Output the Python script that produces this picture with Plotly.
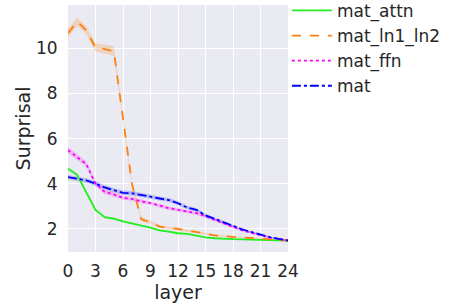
import plotly.graph_objects as go

layers = list(range(25))

mat_attn = [4.67, 4.40, 3.62, 2.84, 2.52, 2.46, 2.34, 2.26, 2.15, 2.06, 1.94, 1.88, 1.81, 1.78, 1.70, 1.63, 1.59, 1.56, 1.55, 1.54, 1.53, 1.52, 1.51, 1.50, 1.48]
mat_attn_ci = [0.10, 0.08, 0.07, 0.06, 0.05, 0.05, 0.04, 0.04, 0.04, 0.04, 0.03, 0.03, 0.03, 0.03, 0.03, 0.03, 0.03, 0.02, 0.02, 0.02, 0.02, 0.02, 0.02, 0.02, 0.02]

mat_ln1_ln2 = [10.67, 11.18, 10.80, 10.03, 9.97, 9.88, 6.90, 3.95, 2.43, 2.30, 2.10, 2.06, 2.00, 1.94, 1.85, 1.79, 1.72, 1.68, 1.65, 1.62, 1.60, 1.58, 1.56, 1.53, 1.49]
mat_ln1_ln2_ci = [0.20, 0.18, 0.18, 0.18, 0.20, 0.22, 0.15, 0.10, 0.10, 0.08, 0.06, 0.06, 0.05, 0.05, 0.05, 0.05, 0.04, 0.04, 0.04, 0.03, 0.03, 0.03, 0.03, 0.03, 0.03]

mat_ffn = [5.49, 5.20, 4.87, 4.01, 3.64, 3.53, 3.38, 3.33, 3.22, 3.15, 3.03, 2.92, 2.85, 2.77, 2.70, 2.56, 2.40, 2.24, 2.07, 1.94, 1.83, 1.71, 1.62, 1.56, 1.49]
mat_ffn_ci = [0.15, 0.14, 0.13, 0.12, 0.10, 0.10, 0.09, 0.09, 0.09, 0.08, 0.08, 0.08, 0.08, 0.07, 0.07, 0.06, 0.06, 0.05, 0.05, 0.04, 0.04, 0.04, 0.03, 0.03, 0.03]

mat = [4.30, 4.21, 4.15, 4.01, 3.84, 3.72, 3.60, 3.58, 3.49, 3.43, 3.35, 3.28, 3.14, 2.95, 2.85, 2.60, 2.45, 2.28, 2.14, 1.98, 1.87, 1.74, 1.64, 1.56, 1.49]
mat_ci = [0.10, 0.10, 0.10, 0.10, 0.10, 0.10, 0.10, 0.10, 0.10, 0.10, 0.09, 0.09, 0.09, 0.08, 0.08, 0.07, 0.06, 0.06, 0.05, 0.05, 0.04, 0.04, 0.04, 0.03, 0.03]

names = ["mat_attn", "mat_ln1_ln2", "mat_ffn", "mat"]
series = [mat_attn, mat_ln1_ln2, mat_ffn, mat]
cis = [mat_attn_ci, mat_ln1_ln2_ci, mat_ffn_ci, mat_ci]
colors = ["#22ee22", "#ff7f0e", "#ff00ff", "#0000ff"]
bands = ["rgba(34,238,34,0.2)", "rgba(255,127,14,0.22)", "rgba(255,0,255,0.2)", "rgba(0,0,255,0.2)"]
dashes = ["solid", "dash", "dot", "dashdot"]

fig = go.Figure()
for name, ys, ci, c, b in zip(names, series, cis, colors, bands):
    upper = [y + e for y, e in zip(ys, ci)]
    lower = [y - e for y, e in zip(ys, ci)]
    fig.add_trace(go.Scatter(x=layers + layers[::-1], y=upper + lower[::-1],
                             fill="toself", fillcolor=b, line=dict(width=0),
                             mode="lines", hoverinfo="skip", showlegend=False))
for name, ys, c, d in zip(names, series, colors, dashes):
    fig.add_trace(go.Scatter(x=layers, y=ys, mode="lines", name=name,
                             line=dict(color=c, width=1.8, dash=d)))

font = "DejaVu Sans"
fig.update_layout(
    width=449, height=307,
    margin=dict(l=68, r=161, t=5, b=55, autoexpand=False),
    paper_bgcolor="white", plot_bgcolor="#eaeaf2",
    font=dict(family=font, size=17, color="#262626"),
    legend=dict(x=0.995, xanchor="left", y=1.049, yanchor="top",
                font=dict(size=17, color="#262626"), bgcolor="rgba(0,0,0,0)",
                tracegroupgap=0, itemwidth=40),
    showlegend=True,
)
fig.update_xaxes(range=[0, 24], tickvals=list(range(0, 25, 3)), automargin=False,
                 showgrid=True, gridcolor="white", gridwidth=1.2, zeroline=False,
                 ticks="outside", ticklen=4, tickcolor="rgba(0,0,0,0)",
                 title=dict(text="layer", font=dict(size=19), standoff=0),
                 tickfont=dict(size=17))
fig.update_yaxes(range=[0.98, 11.92], tickvals=[2, 4, 6, 8, 10], automargin=False,
                 showgrid=True, gridcolor="white", gridwidth=1.2, zeroline=False,
                 ticks="outside", ticklen=6, tickcolor="rgba(0,0,0,0)",
                 title=dict(text="Surprisal", font=dict(size=19), standoff=0),
                 tickfont=dict(size=17))

fig.write_html("out.html", config={"displayModeBar": False},
               post_script="document.body.style.margin='0';")
